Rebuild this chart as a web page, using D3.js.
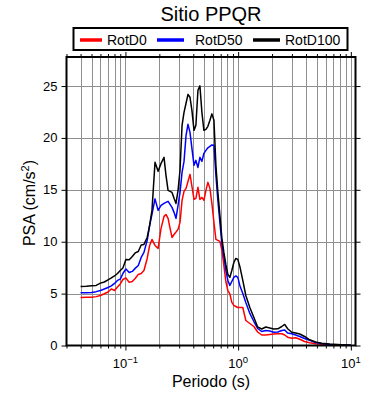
<!DOCTYPE html>
<html><head><meta charset="utf-8">
<script src="https://cdn.jsdelivr.net/npm/d3@7"></script>
<style>
body{margin:0;background:#fff}
svg{display:block}
text{font-family:"Liberation Sans",Arial,Helvetica,sans-serif;fill:#000}
</style>
</head><body><svg id="c" width="390" height="400"></svg>
<script>
const title = "Sitio PPQR";
const xTitle = "Periodo (s)";
const periods = [0.040,0.045,0.050,0.055,0.060,0.065,0.070,0.075,0.080,0.085,0.090,0.095,0.101,0.108,0.115,0.122,0.130,0.138,0.146,0.156,0.164,0.172,0.183,0.195,0.207,0.220,0.229,0.239,0.249,0.259,0.270,0.281,0.293,0.305,0.318,0.331,0.345,0.359,0.374,0.389,0.406,0.422,0.440,0.458,0.477,0.497,0.518,0.539,0.562,0.585,0.610,0.635,0.661,0.689,0.718,0.747,0.778,0.811,0.844,0.879,0.916,0.954,0.994,1.035,1.10,1.17,1.27,1.38,1.49,1.62,1.76,1.91,2.07,2.25,2.44,2.59,2.75,2.99,3.24,3.52,3.89,4.31,4.87,5.50,6.48,7.63,8.98,10.0];
const rotD0 = [4.63,4.65,4.66,4.71,4.82,4.99,5.16,5.45,5.30,5.64,5.93,6.36,6.51,6.08,6.17,6.46,6.85,6.94,7.23,8.39,9.64,10.22,9.64,9.35,11.28,12.44,12.63,12.25,11.28,10.41,10.70,10.93,11.19,11.86,13.98,14.85,15.14,15.81,16.49,15.33,14.08,14.18,15.24,14.08,14.27,13.98,14.95,15.72,15.14,13.69,11.86,10.22,10.13,10.03,9.16,7.71,6.17,5.30,4.97,4.15,3.86,3.76,3.66,3.65,3.66,2.41,2.12,1.83,1.30,1.01,1.01,1.06,1.11,1.13,1.13,1.01,0.80,0.70,0.74,0.60,0.39,0.27,0.16,0.12,0.07,0.05,0.03,0.02];
const rotD50 = [5.08,5.09,5.11,5.19,5.30,5.45,5.59,5.74,5.98,6.27,6.39,6.94,7.38,7.04,7.14,7.43,7.71,8.49,8.97,10.13,11.57,12.63,14.13,13.02,13.50,13.69,13.79,13.89,13.60,13.31,12.83,12.25,13.50,14.75,16.68,17.74,20.25,21.31,20.54,19.00,17.36,17.84,17.16,18.13,17.74,18.52,18.80,19.05,19.19,19.33,19.29,16.39,13.98,11.86,9.74,8.58,7.23,6.27,5.79,6.17,6.56,6.70,6.56,5.79,5.01,4.15,3.09,2.31,1.64,1.35,1.45,1.40,1.28,1.30,1.45,1.49,1.21,1.13,1.01,0.87,0.68,0.50,0.29,0.19,0.10,0.06,0.04,0.02];
const rotD100 = [5.69,5.72,5.76,5.79,6.01,6.12,6.32,6.51,6.70,6.94,7.23,7.47,8.29,8.26,8.58,8.92,9.06,9.69,9.74,10.41,11.57,13.02,17.65,16.78,17.55,18.13,16.39,14.95,14.85,14.75,14.18,13.69,14.95,16.88,21.22,22.47,23.34,24.20,23.92,22.66,20.73,21.22,24.59,25.02,22.47,20.73,20.83,21.12,21.70,22.32,21.70,17.36,14.75,12.54,10.32,8.97,7.81,6.85,6.56,7.23,8.00,8.39,8.29,7.62,6.27,4.82,3.66,2.70,1.78,1.59,1.78,1.69,1.59,1.61,1.83,2.03,1.61,1.28,1.21,1.11,0.87,0.55,0.34,0.22,0.14,0.09,0.05,0.03];
const seriesNames = ["RotD0","RotD50","RotD100"];
const seriesColors = ["#ff0000","#0000ff","#000000"];
const yTicks = [0,5,10,15,20,25];
const xMajorTicks = [0.1,1,10];
const xMajorExp = ["\u22121","0","1"];

const series = [rotD0, rotD50, rotD100];
const L = 66.5, R = 355.5, T = 57, B = 345.5;
const svg = d3.select("#c");
const x = d3.scaleLog().domain([0.03, 11]).range([L, R]);
const y = d3.scaleLinear().domain([0, 27.8]).range([B, T]);

// minor ticks
const minorTicks = [];
for (const dec of [0.01, 0.1, 1]) for (let k = 2; k <= 9; k++) {
  const v = +(dec * k).toPrecision(3);
  if (v >= 0.03 && v <= 11) minorTicks.push(v);
}
const allX = minorTicks.concat(xMajorTicks).sort((a,b)=>a-b);

// grid
const grid = svg.append("g").attr("stroke", "#8f8f8f").attr("stroke-width", 1).attr("shape-rendering","crispEdges");
grid.selectAll("line.v").data(allX.filter(v => x(v) > L + 1 && x(v) < R - 1)).join("line")
  .attr("x1", d => Math.round(x(d)) + 0.5).attr("x2", d => Math.round(x(d)) + 0.5).attr("y1", T).attr("y2", B);
grid.selectAll("line.h").data(yTicks.filter(v => v > 0)).join("line")
  .attr("x1", L).attr("x2", R).attr("y1", d => Math.round(y(d)) + 0.5).attr("y2", d => Math.round(y(d)) + 0.5);

// axes ticks
function styleAxis(g){ g.select(".domain").remove(); g.selectAll("line").attr("stroke","#000").attr("stroke-width",1); g.selectAll("text").remove(); }
svg.append("g").attr("transform",`translate(0,${B})`).call(d3.axisBottom(x).tickValues(minorTicks).tickSize(3).tickFormat("")).call(styleAxis);
svg.append("g").attr("transform",`translate(0,${B})`).call(d3.axisBottom(x).tickValues(xMajorTicks).tickSize(5).tickFormat("")).call(styleAxis);
svg.append("g").attr("transform",`translate(0,${T})`).call(d3.axisTop(x).tickValues(minorTicks).tickSize(3).tickFormat("")).call(styleAxis);
svg.append("g").attr("transform",`translate(0,${T})`).call(d3.axisTop(x).tickValues(xMajorTicks).tickSize(5).tickFormat("")).call(styleAxis);
svg.append("g").attr("transform",`translate(${L},0)`).call(d3.axisLeft(y).tickValues(yTicks).tickSize(5).tickFormat("")).call(styleAxis);
svg.append("g").attr("transform",`translate(${R},0)`).call(d3.axisRight(y).tickValues(yTicks).tickSize(5).tickFormat("")).call(styleAxis);

// curves
const clip = svg.append("clipPath").attr("id","cp").append("rect").attr("x",L).attr("y",T).attr("width",R-L).attr("height",B-T);
const line = d3.line().x((d,i) => x(periods[i])).y(d => y(d));
svg.append("g").attr("clip-path","url(#cp)").selectAll("path").data(series).join("path")
  .attr("d", d => line(d)).attr("fill","none").attr("stroke",(d,i)=>seriesColors[i])
  .attr("stroke-width",1.5).attr("stroke-linejoin","round");

// frame
svg.append("rect").attr("x",L).attr("y",T).attr("width",R-L).attr("height",B-T)
  .attr("fill","none").attr("stroke","#000").attr("stroke-width",2);

// x tick labels
const xl = svg.append("g").selectAll("text").data(xMajorTicks).join("text")
  .attr("x", d => x(d)).attr("y", 368).attr("text-anchor","middle").attr("font-size",13);
xl.append("tspan").text("10");
xl.append("tspan").attr("dy",-5).attr("font-size",9.5).text((d,i)=>xMajorExp[i]);

// y tick labels
svg.append("g").selectAll("text").data(yTicks).join("text")
  .attr("x", L - 9).attr("y", d => y(d) + 4.5).attr("text-anchor","end").attr("font-size",13).text(d => d);

// titles
svg.append("text").attr("x",211).attr("y",21).attr("text-anchor","middle").attr("font-size",20).text(title);
svg.append("text").attr("x",211).attr("y",387).attr("text-anchor","middle").attr("font-size",16).text(xTitle);
const yt = svg.append("text").attr("transform","translate(35,203) rotate(-90)").attr("text-anchor","middle").attr("font-size",16);
yt.append("tspan").text("PSA (cm/s");
yt.append("tspan").attr("dy",-6).attr("font-size",11).text("2");
yt.append("tspan").attr("dy",6).text(")");

// legend
const lg = svg.append("g");
lg.append("rect").attr("x",73.5).attr("y",28).attr("width",274).attr("height",22).attr("fill","#fff").attr("stroke","#000").attr("stroke-width",2);
const legX = [80, 157, 253];
const legTX = [107, 195, 285];
const legW = [22, 27, 27];
seriesNames.forEach((n,i) => {
  lg.append("line").attr("x1",legX[i]).attr("x2",legX[i]+legW[i]).attr("y1",40).attr("y2",40)
    .attr("stroke",seriesColors[i]).attr("stroke-width",3.5);
  lg.append("text").attr("x",legTX[i]).attr("y",45).attr("font-size",14).text(n);
});
</script>
</body></html>
